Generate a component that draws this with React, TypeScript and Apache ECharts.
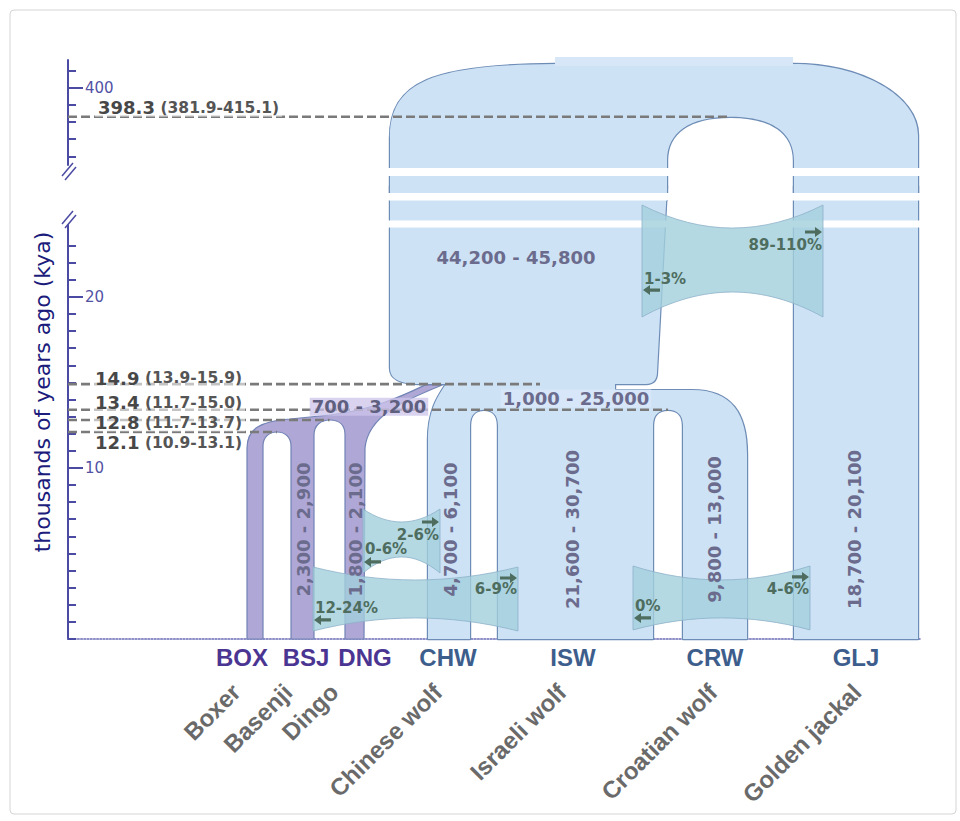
import React, { useEffect, useRef } from 'react';
import * as echarts from 'echarts';

// ================= DATA =================
const popCodes = ['BOX', 'BSJ', 'DNG', 'CHW', 'ISW', 'CRW', 'GLJ'];
const popNames = ['Boxer', 'Basenji', 'Dingo', 'Chinese wolf', 'Israeli wolf', 'Croatian wolf', 'Golden jackal'];
const popNe = ['', '2,300 - 2,900', '1,800 - 2,100', '4,700 - 6,100', '21,600 - 30,700', '9,800 - 13,000', '18,700 - 20,100'];
const popIsDog = [true, true, true, false, false, false, false];

// ancestral populations: wolf-dog ancestor, wolf ancestor, dog ancestor
const ancNe = ['44,200 - 45,800', '1,000 - 25,000', '700 - 3,200'];

// divergence times (kya): root (jackal split), wolf-dog split, wolf split, BSJ-DNG split, BOX-BSJ split
const splitTimes = [398.3, 14.9, 13.4, 12.8, 12.1];
const splitLabels = ['398.3', '14.9', '13.4', '12.8', '12.1'];
const splitCI = ['(381.9-415.1)', '(13.9-15.9)', '(11.7-15.0)', '(11.7-13.7)', '(10.9-13.1)'];

// migration bands: leftward / rightward rates
const migLeftRates = ['1-3%', '0-6%', '12-24%', '0%'];
const migRightRates = ['89-110%', '2-6%', '6-9%', '4-6%'];

const upperTicks = [396, 397, 398, 399, 400, 401];
const upperTickLabels = [400];
const lowerTicks = [0, 1, 2, 3, 4, 5, 6, 7, 8, 9, 10, 11, 12, 13, 14, 15, 16, 17, 18, 19, 20, 21, 22, 23];
const lowerTickLabels = [10, 20];
const axisTitle = 'thousands of years ago (kya)';

// ================= LAYOUT =================
const W = 960;
const H = 821;
const GRID_LEFT = 68;
const GRID_RIGHT = 40;
const UP_TOP = 60, UP_H = 105, UP_MIN = 395.5, UP_MAX = 401.6;
const LO_TOP = 225, LO_H = 414, LO_MIN = 0, LO_MAX = 24.2;
const X_MIN = 68, X_MAX = 920; // lane-position axis

const CODE_X = [242, 306, 365, 448, 573, 715, 856];
const NAME_X = [236, 288, 334, 438, 562, 713, 857];
const NE_X = [0, 303, 355, 450, 572, 714, 854];
const NE_T = 6.4;
const LINE_END_X = [730.5, 540, 668, 329.5, 277];
const LABEL_X = [95, 92, 92, 92, 92];
const LABEL_DY = [-9, -6, -7, 2.5, 10.5];

const BANDS = [
  { x0: 642, x1: 823, tTop: 25.37, tBot: 18.82, dipT: 23, dipB: 25, rT: 40, rA: 27, lT: 38, lA: 27 },
  { x0: 363, x1: 440, tTop: 7.6, tBot: 3.86, dipT: 13, dipB: 16, rT: 26, rA: 13, lT: 24, lA: 11 },
  { x0: 313, x1: 518, tTop: 4.21, tBot: 0.47, dipT: 13, dipB: 13, rT: 22, rA: 11, lT: 23, lA: 11 },
  { x0: 633, x1: 810, tTop: 4.27, tBot: 0.53, dipT: 14, dipB: 12, rT: 23, rA: 11, lT: 24, lA: 12 },
];

// ================= STYLE =================
const AXIS = '#4b4ba3';
const BLUE = '#cee2f5';
const BLUE_CAP = '#d8e7f7';
const OUTLINE = '#6e8db6';
const PURPLE = '#afa7d5';
const PURPLE_LINE = '#7183b6';
const MIG_FILL = '#a3d0dc';
const MIG_LINE = '#8db2c9';
const MIG_TEXT = '#4e6d5f';
const NE_COLOR = '#6b6b8d';
const DIV_COLOR = '#474747';
const DASH = '#7a7a7a';
const FONT = 'DejaVu Sans';
const FONT_CODE = 'Liberation Sans';

function mk(api: any) {
  return (x: number, t: number, dy = 0) => {
    const p = api.coord([x, t]);
    return `${p[0].toFixed(1)} ${(p[1] + dy).toFixed(1)}`;
  };
}
function pt(api: any, x: number, t: number, dy = 0): [number, number] {
  const p = api.coord([x, t]);
  return [p[0], p[1] + dy];
}

function rootUpperD(api: any) {
  const at = mk(api);
  const tR = splitTimes[0];
  return [
    'M', at(390, UP_MIN, 35),
    'L', at(390, UP_MAX, 78),
    'C', at(390, UP_MAX, 22), at(432, UP_MAX, 5), at(555, UP_MAX, 4),
    'L', at(793, UP_MAX, 4),
    'C', at(862, UP_MAX, 4), at(918, UP_MAX, 36), at(918, UP_MAX, 75),
    'L', at(918, UP_MIN, 35),
    'L', at(794, UP_MIN, 35),
    'L', at(794, tR, 44),
    'C', at(794, tR, 16), at(772, tR, 0), at(730.5, tR, 0),
    'C', at(689, tR, 0), at(667, tR, 16), at(667, tR, 44),
    'L', at(667, UP_MIN, 35),
    'Z',
  ].join(' ');
}

function wolvesD(api: any) {
  const at = mk(api);
  const tWD = splitTimes[1];
  const tW = splitTimes[2];
  return [
    'M', at(390, LO_MAX, -39),
    'L', at(390, tWD, -16),
    'C', at(390, tWD, -6), at(398, tWD, 0), at(420, tWD, 0),
    'L', at(446, tWD, 0),
    'C', at(438, tWD, 12), at(428, tWD, 26), at(428, tWD, 56),
    'L', at(428, 0),
    'L', at(470, 0),
    'L', at(470, tW, 16),
    'C', at(470, tW, 5), at(476, tW, 0), at(484, tW, 0),
    'C', at(492, tW, 0), at(498, tW, 5), at(498, tW, 16),
    'L', at(498, 0),
    'L', at(653, 0),
    'L', at(653, tW, 16),
    'C', at(653, tW, 5), at(659, tW, 0), at(668, tW, 0),
    'C', at(677, tW, 0), at(683, tW, 5), at(683, tW, 16),
    'L', at(683, 0),
    'L', at(747, 0),
    'L', at(747, tWD, 70),
    'C', at(747, tWD, 30), at(732, tWD, 6), at(692, tWD, 6),
    'L', at(615, tWD, 6),
    'L', at(615, tWD, 0),
    'L', at(646, tWD, 0),
    'C', at(653, tWD, 0), at(657, tWD, -4), at(657, tWD, -12),
    'L', at(667, LO_MAX, -39),
    'Z',
  ].join(' ');
}

function jackalD(api: any) {
  const at = mk(api);
  return ['M', at(794, LO_MAX, -39), 'L', at(918, LO_MAX, -39), 'L', at(918, 0), 'L', at(794, 0), 'Z'].join(' ');
}

function dogsD(api: any) {
  const at = mk(api);
  const tWD = splitTimes[1];
  const tB = splitTimes[3];
  const tA = splitTimes[4];
  return [
    'M', at(247, 0),
    'L', at(247, tB, 28),
    'C', at(247, tB, 8), at(262, tB, 1), at(290, tB, -1),
    'L', at(330, tB, -5),
    'C', at(372, tB, -10), at(402, tWD, 12), at(426, tWD, 0.5),
    'L', at(442, tWD, 1),
    'C', at(405, tWD, 16), at(368, tB, -5), at(365, tB, 28),
    'L', at(364, 0),
    'L', at(345, 0),
    'L', at(345, tB, 15),
    'C', at(345, tB, 5), at(339, tB, 0), at(330, tB, 0),
    'C', at(321, tB, 0), at(314, tB, 5), at(314, tB, 15),
    'L', at(314, 0),
    'L', at(291, 0),
    'L', at(291, tA, 14),
    'C', at(291, tA, 5), at(285, tA, 0), at(277, tA, 0),
    'C', at(269, tA, 0), at(263, tA, 5), at(263, tA, 14),
    'L', at(263, 0),
    'Z',
  ].join(' ');
}

function bandD(api: any, b: any) {
  const a = pt(api, b.x0, b.tTop);
  const r = pt(api, b.x1, b.tTop);
  const c = pt(api, b.x1, b.tBot);
  const d = pt(api, b.x0, b.tBot);
  const w = r[0] - a[0];
  const f = (p: number[]) => `${p[0].toFixed(1)} ${p[1].toFixed(1)}`;
  return [
    'M', f(a),
    'C', f([a[0] + w / 3, a[1] + b.dipT / 0.75]), f([r[0] - w / 3, r[1] + b.dipT / 0.75]), f(r),
    'L', f(c),
    'C', f([c[0] - w / 3, c[1] - b.dipB / 0.75]), f([d[0] + w / 3, d[1] - b.dipB / 0.75]), f(d),
    'Z',
  ].join(' ');
}

function arrowD(x1: number, x2: number, y: number, dir: 1 | -1) {
  const L = 7;
  const s = 1.6;
  const h = 5;
  if (dir === 1) {
    return `M ${x1} ${y - s} L ${x2 - L} ${y - s} L ${x2 - L} ${y - h} L ${x2} ${y} L ${x2 - L} ${y + h} L ${x2 - L} ${y + s} L ${x1} ${y + s} Z`;
  }
  return `M ${x2} ${y - s} L ${x1 + L} ${y - s} L ${x1 + L} ${y - h} L ${x1} ${y} L ${x1 + L} ${y + h} L ${x1 + L} ${y + s} L ${x2} ${y + s} Z`;
}

function txt(x: number, y: number, text: string, o: any = {}) {
  const align = o.align || 'center';
  const valign = o.valign || 'middle';
  return {
    type: 'text',
    x,
    y,
    rotation: o.rotation || 0,
    style: {
      text,
      fill: o.fill || '#333',
      fontSize: o.fontSize || 16,
      fontWeight: o.fontWeight || 'normal',
      fontFamily: o.fontFamily || FONT,
      align,
      verticalAlign: valign,
      textAlign: align,
      textVerticalAlign: valign,
      backgroundColor: o.bg,
      padding: o.padding,
      rich: o.rich,
    },
  };
}

function divLabel(api: any, i: number) {
  const yLine = api.coord([X_MIN, splitTimes[i]])[1];
  const big = { fontSize: 18, fontWeight: 'bold', fontFamily: FONT, fill: DIV_COLOR, color: DIV_COLOR };
  const small = { fontSize: 15.5, fontWeight: 'bold', fontFamily: FONT, fill: '#555555', color: '#555555' };
  return txt(LABEL_X[i], yLine + LABEL_DY[i], `{a|${splitLabels[i]}} {b|${splitCI[i]}}`, {
    align: 'left',
    rich: { a: big, b: small },
    fill: DIV_COLOR,
    fontSize: 16,
    fontWeight: 'bold',
    bg: 'rgba(255,255,255,0.55)',
    padding: [0, 3, 0, 3],
  });
}

function divLine(api: any, i: number) {
  const a = api.coord([X_MIN, splitTimes[i]]);
  const b = api.coord([LINE_END_X[i], splitTimes[i]]);
  return {
    type: 'line',
    shape: { x1: a[0], y1: a[1], x2: b[0], y2: b[1] },
    style: { stroke: DASH, lineWidth: 2.6, lineDash: [9, 4] },
  };
}

function buildOption() {
  const one = [[X_MIN, 0]];
  const base = { type: 'custom', clip: false, silent: true, data: one, z: 2 };
  const up = { ...base, xAxisIndex: 0, yAxisIndex: 0 };
  const lo = { ...base, xAxisIndex: 1, yAxisIndex: 1 };

  const tickLabelStyle = { color: '#5252a3', fontSize: 15, fontFamily: FONT };

  return {
    animation: false,
    backgroundColor: '#ffffff',
    grid: [
      { left: GRID_LEFT, right: GRID_RIGHT, top: UP_TOP, height: UP_H },
      { left: GRID_LEFT, right: GRID_RIGHT, top: LO_TOP, height: LO_H },
    ],
    xAxis: [
      { gridIndex: 0, type: 'value', min: X_MIN, max: X_MAX, show: false },
      {
        gridIndex: 1, type: 'value', min: X_MIN, max: X_MAX,
        axisLine: { show: true, onZero: false, lineStyle: { color: '#6a6ab8', width: 1.6, type: 'dotted' } },
        axisTick: { show: false }, axisLabel: { show: false }, splitLine: { show: false },
      },
    ],
    yAxis: [
      {
        gridIndex: 0, type: 'value', position: 'left', min: UP_MIN, max: UP_MAX,
        axisLine: { show: true, lineStyle: { color: AXIS, width: 2 } },
        axisTick: { show: true, inside: true, length: 8, customValues: upperTicks, lineStyle: { color: AXIS, width: 2 } },
        axisLabel: { show: false }, splitLine: { show: false },
      },
      {
        gridIndex: 1, type: 'value', position: 'left', min: LO_MIN, max: LO_MAX,
        axisLine: { show: true, lineStyle: { color: AXIS, width: 2 } },
        axisTick: { show: true, inside: true, length: 8, customValues: lowerTicks, lineStyle: { color: AXIS, width: 2 } },
        axisLabel: { show: false }, splitLine: { show: false },
      },
      {
        gridIndex: 0, type: 'value', position: 'left', min: UP_MIN, max: UP_MAX,
        axisLine: { show: false },
        axisTick: { show: true, inside: true, length: 15, customValues: upperTickLabels, lineStyle: { color: AXIS, width: 2 } },
        axisLabel: { show: true, inside: true, margin: 17, customValues: upperTickLabels, ...tickLabelStyle },
        splitLine: { show: false },
      },
      {
        gridIndex: 1, type: 'value', position: 'left', min: LO_MIN, max: LO_MAX,
        axisLine: { show: false },
        axisTick: { show: true, inside: true, length: 15, customValues: lowerTickLabels, lineStyle: { color: AXIS, width: 2 } },
        axisLabel: { show: true, inside: true, margin: 17, customValues: lowerTickLabels, ...tickLabelStyle },
        splitLine: { show: false },
      },
    ],
    graphic: [
      {
        type: 'rect', shape: { x: 10, y: 10, width: 946, height: 804, r: 4 },
        style: { fill: 'none', stroke: '#d4d4d4', lineWidth: 1 }, silent: true, z: -1,
      },
      {
        type: 'text', x: 42, y: 392, rotation: Math.PI / 2,
        style: {
          text: axisTitle, fill: '#1c1c7c', fontSize: 22, fontFamily: FONT,
          align: 'center', verticalAlign: 'middle', textAlign: 'center', textVerticalAlign: 'middle',
        },
      },
      { type: 'line', shape: { x1: 62, y1: 176, x2: 73, y2: 163 }, style: { stroke: AXIS, lineWidth: 1.5 } },
      { type: 'line', shape: { x1: 65, y1: 180, x2: 76, y2: 167 }, style: { stroke: AXIS, lineWidth: 1.5 } },
      { type: 'line', shape: { x1: 62, y1: 224, x2: 73, y2: 211 }, style: { stroke: AXIS, lineWidth: 1.5 } },
      { type: 'line', shape: { x1: 65, y1: 228, x2: 76, y2: 215 }, style: { stroke: AXIS, lineWidth: 1.5 } },
    ],
    series: [
      {
        ...up, name: 'root-outline',
        renderItem: (_p: any, api: any) => ({
          type: 'group',
          children: [{ type: 'path', shape: { pathData: rootUpperD(api) }, style: { fill: 'none', stroke: OUTLINE, lineWidth: 2.4, lineJoin: 'round' } }],
        }),
      },
      {
        ...lo, name: 'wolves-outline',
        renderItem: (_p: any, api: any) => ({
          type: 'group',
          children: [
            { type: 'path', shape: { pathData: wolvesD(api) }, style: { fill: 'none', stroke: OUTLINE, lineWidth: 2.4, lineJoin: 'round' } },
            { type: 'path', shape: { pathData: jackalD(api) }, style: { fill: 'none', stroke: OUTLINE, lineWidth: 2.4, lineJoin: 'round' } },
          ],
        }),
      },
      {
        ...up, name: 'root-fill',
        renderItem: (_p: any, api: any) => {
          const a = pt(api, 555, UP_MAX, -3);
          const b = pt(api, 793, UP_MAX, 6);
          return {
            type: 'group',
            children: [
              { type: 'path', shape: { pathData: rootUpperD(api) }, style: { fill: BLUE } },
              { type: 'rect', shape: { x: a[0], y: a[1], width: b[0] - a[0], height: b[1] - a[1] }, style: { fill: BLUE_CAP } },
            ],
          };
        },
      },
      {
        ...lo, name: 'wolves-fill',
        renderItem: (_p: any, api: any) => ({
          type: 'group',
          children: [
            { type: 'path', shape: { pathData: wolvesD(api) }, style: { fill: BLUE } },
            { type: 'path', shape: { pathData: jackalD(api) }, style: { fill: BLUE } },
          ],
        }),
      },
      {
        ...lo, name: 'dogs',
        renderItem: (_p: any, api: any) => ({
          type: 'group',
          children: [{ type: 'path', shape: { pathData: dogsD(api) }, style: { fill: PURPLE, stroke: PURPLE_LINE, lineWidth: 1.2, lineJoin: 'round' } }],
        }),
      },
      {
        ...lo, name: 'break',
        renderItem: (_p: any, api: any) => {
          const stripes = [[-57, 8], [-32, 7.5], [-4.5, 7]];
          return {
            type: 'group',
            children: stripes.map(([dy, h]) => {
              const a = pt(api, 386, LO_MAX, dy);
              const b = pt(api, 922, LO_MAX, dy + h);
              return { type: 'rect', shape: { x: a[0], y: a[1], width: b[0] - a[0], height: b[1] - a[1] }, style: { fill: '#ffffff' } };
            }),
          };
        },
      },
      {
        ...lo, name: 'migration',
        renderItem: (_p: any, api: any) => ({
          type: 'group',
          children: BANDS.map((b) => ({
            type: 'path', shape: { pathData: bandD(api, b) },
            style: { fill: MIG_FILL, opacity: 0.8, stroke: MIG_LINE, lineWidth: 1 },
          })),
        }),
      },
      {
        ...lo, name: 'splits',
        renderItem: (_p: any, api: any) => ({
          type: 'group',
          children: [1, 2, 3, 4].map((i) => divLine(api, i)),
        }),
      },
      {
        ...up, name: 'root-split',
        renderItem: (_p: any, api: any) => ({
          type: 'group',
          children: [divLine(api, 0), divLabel(api, 0)],
        }),
      },
      {
        ...lo, name: 'labels',
        renderItem: (_p: any, api: any) => {
          const children: any[] = [];
          const y0 = api.coord([X_MIN, 0])[1];
          const yWD = api.coord([X_MIN, splitTimes[1]])[1];
          const yW = api.coord([X_MIN, splitTimes[2]])[1];
          const yTop = api.coord([X_MIN, LO_MAX])[1];
          [1, 2, 3, 4].forEach((i) => children.push(divLabel(api, i)));
          popNe.forEach((ne, i) => {
            if (!ne) return;
            const p = api.coord([NE_X[i], NE_T]);
            children.push(txt(p[0], p[1], ne, { rotation: Math.PI / 2, fill: NE_COLOR, fontSize: 18, fontWeight: 'bold' }));
          });
          children.push(txt(api.coord([516, 0])[0], yTop + 32, ancNe[0], { fill: NE_COLOR, fontSize: 18, fontWeight: 'bold' }));
          children.push(txt(api.coord([576, 0])[0], (yWD + yW) / 2 + 1.5, ancNe[1], {
            fill: NE_COLOR, fontSize: 18, fontWeight: 'bold', bg: 'rgba(216,231,248,0.9)', padding: [0, 2, 0, 2],
          }));
          children.push(txt(api.coord([369, 0])[0], yW - 3, ancNe[2], {
            fill: '#5f5f80', fontSize: 18, fontWeight: 'bold', bg: 'rgba(204,196,234,0.75)', padding: [0, 2, 0, 2],
          }));
          BANDS.forEach((b, i) => {
            const tr = pt(api, b.x1, b.tTop);
            const bl = pt(api, b.x0, b.tBot);
            children.push(txt(tr[0] - 1, tr[1] + b.rT, migRightRates[i], { align: 'right', fill: MIG_TEXT, fontSize: 15, fontWeight: 'bold' }));
            children.push({ type: 'path', shape: { pathData: arrowD(tr[0] - 18, tr[0] - 1, tr[1] + b.rA, 1) }, style: { fill: MIG_TEXT } });
            children.push(txt(bl[0] + 2, bl[1] - b.lT, migLeftRates[i], { align: 'left', fill: MIG_TEXT, fontSize: 15, fontWeight: 'bold' }));
            children.push({ type: 'path', shape: { pathData: arrowD(bl[0] + 1, bl[0] + 18, bl[1] - b.lA, -1) }, style: { fill: MIG_TEXT } });
          });
          popCodes.forEach((code, i) => {
            const x = api.coord([CODE_X[i], 0])[0];
            children.push(txt(x, y0 + 18, code, {
              fill: popIsDog[i] ? '#4b3592' : '#3d5e8c', fontSize: 24, fontWeight: 'bold', fontFamily: FONT_CODE,
            }));
          });
          popNames.forEach((name, i) => {
            const x = api.coord([NAME_X[i], 0])[0];
            children.push(txt(x, y0 + 49, name, {
              align: 'right', rotation: Math.PI / 4, fill: '#6a6a6a', fontSize: 24, fontWeight: 'bold', fontFamily: FONT_CODE,
            }));
          });
          return { type: 'group', children };
        },
      },
    ],
  };
}

export default function App() {
  const ref = useRef<HTMLDivElement>(null);
  useEffect(() => {
    if (!ref.current) return;
    const chart = echarts.init(ref.current, null, { renderer: 'svg' });
    chart.setOption(buildOption() as any);
    return () => chart.dispose();
  }, []);
  return (
    <div
      ref={ref}
      style={{ position: 'fixed', left: 0, top: 0, width: W, height: H, background: '#ffffff' }}
    />
  );
}
